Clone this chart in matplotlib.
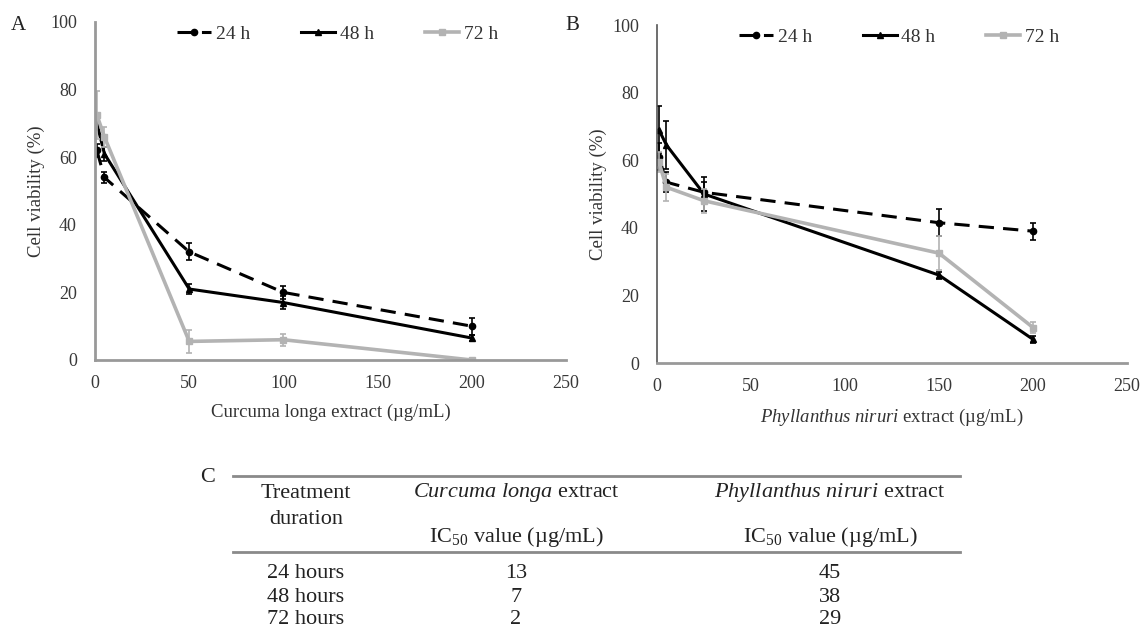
import matplotlib
matplotlib.use('Agg')
import matplotlib.pyplot as plt
from matplotlib.lines import Line2D

plt.rcParams['font.family'] = ['Liberation Serif', 'DejaVu Serif']
plt.rcParams['mathtext.fontset'] = 'custom'
plt.rcParams['mathtext.rm'] = 'Liberation Serif'
plt.rcParams['mathtext.it'] = 'Liberation Serif:italic'

# Panel A - Curcuma longa
cl_conc = [1, 5, 50, 100, 200]
cl_24 = [62, 54, 32, 20, 10]
cl_24_err = [2, 1.5, 2.5, 2, 2.5]
cl_48 = [70, 61, 21, 17, 6.5]
cl_48_err = [2, 2, 1.5, 2, 1]
cl_72 = [72.5, 66, 5.5, 6, 0]
cl_72_err = [7, 3, 3.3, 1.8, 0.5]

# Panel B - Phyllanthus niruri
pn_conc = [1, 5, 25, 150, 200]
pn_24 = [61, 53.5, 50.5, 41.5, 39]
pn_24_err = [4, 3, 3, 4, 2.5]
pn_48 = [69, 64.5, 50, 26, 7]
pn_48_err = [7, 7, 5, 1, 1]
pn_72 = [59.5, 52, 48, 32.5, 10.5]
pn_72_err = [3, 4, 3.5, 5, 1.5]

labels = ['24 h', '48 h', '72 h']
x_ticks = [0, 50, 100, 150, 200, 250]
y_ticks = [0, 20, 40, 60, 80, 100]

# Panel C - table
durations = ['24 hours', '48 hours', '72 hours']
cl_ic50 = ['13', '7', '2']
pn_ic50 = ['45', '38', '29']

W, H = 1145, 637
fig = plt.figure(figsize=(W / 100, H / 100), dpi=100)


def fx(x):
    return x / W


def fy(y):
    return 1 - y / H


styles = [
    dict(color='black', ls=(0, (5, 3)), marker='o', ms=4.5, lw=2.2),
    dict(color='black', ls='-', marker='^', ms=4.5, lw=2.2),
    dict(color='#b3b3b3', ls='-', marker='s', ms=4.5, lw=2.6),
]


def draw_panel(ax, conc, series, errs, left_spine_color):
    for y, e, st, lab in zip(series, errs, styles, labels):
        ax.errorbar(conc, y, yerr=e, fmt='none', ecolor=st['color'],
                    elinewidth=1.2, capsize=2.5, capthick=1.2)
        ax.plot(conc, y, label=lab, **st)
    ax.set_xlim(0, 250)
    ax.set_ylim(0, 100)
    ax.set_xticks(x_ticks)
    ax.set_yticks(y_ticks)
    ax.tick_params(length=0, labelsize=13, colors='#383838')
    ax.tick_params(axis='y', pad=13)
    ax.tick_params(axis='x', pad=11)
    for s in ['top', 'right']:
        ax.spines[s].set_visible(False)
    ax.spines['bottom'].set_color('#999999')
    ax.spines['bottom'].set_linewidth(2)
    ax.spines['left'].set_color(left_spine_color)
    ax.spines['left'].set_linewidth(2 if left_spine_color == '#999999' else 1.2)
    ax.set_ylabel('Cell viability (%)', fontsize=13.5, color='#333333', labelpad=4)
    ax.legend(loc='center', bbox_to_anchor=(0.515, 0.965), ncol=3, frameon=False,
              fontsize=14, handlelength=1.75, handletextpad=0.25,
              columnspacing=2.6, labelcolor='#333333')


axA = fig.add_axes([fx(95), fy(360), fx(566 - 95), (360 - 22) / H])
draw_panel(axA, cl_conc, [cl_24, cl_48, cl_72],
           [cl_24_err, cl_48_err, cl_72_err], '#999999')
axA.set_xlabel('Curcuma longa extract (µg/mL)', fontsize=13.5, color='#333333', labelpad=8)

axB = fig.add_axes([fx(657), fy(363), fx(1127 - 657), (363 - 25) / H])
draw_panel(axB, pn_conc, [pn_24, pn_48, pn_72],
           [pn_24_err, pn_48_err, pn_72_err], '#555555')
axB.set_xlabel(r'$\mathit{Phyllanthus\ niruri}$ extract (µg/mL)', fontsize=13.5,
               color='#333333', labelpad=8)

# panel letters
fig.text(fx(18), fy(25), 'A', fontsize=15, ha='center', va='center', color='#222222')
fig.text(fx(572), fy(25), 'B', fontsize=15, ha='center', va='center', color='#222222')
fig.text(fx(208), fy(477), 'C', fontsize=16, ha='center', va='center', color='#222222')

# table
fs = 16
tc = '#222222'
for yl in [476, 552]:
    fig.add_artist(Line2D([fx(233), fx(960)], [fy(yl), fy(yl)], color='#8a8a8a', lw=2))

col_x = [306, 516, 830]
fig.text(fx(col_x[0]), fy(493), 'Treatment', fontsize=fs, ha='center', va='center', color=tc)
fig.text(fx(col_x[0]), fy(520), 'duration', fontsize=fs, ha='center', va='center', color=tc)
fig.text(fx(col_x[1]), fy(493), r'$\mathit{Curcuma\ longa}$ extract', fontsize=fs,
         ha='center', va='center', color=tc)
fig.text(fx(col_x[2]), fy(493), r'$\mathit{Phyllanthus\ niruri}$ extract', fontsize=fs,
         ha='center', va='center', color=tc)
for cx in col_x[1:]:
    fig.text(fx(cx), fy(537), r'IC$_{50}$ value (µg/mL)', fontsize=fs,
             ha='center', va='center', color=tc)

row_y = [573, 597, 620]
for ry, d, a, b in zip(row_y, durations, cl_ic50, pn_ic50):
    fig.text(fx(col_x[0]), fy(ry), d, fontsize=fs, ha='center', va='center', color=tc)
    fig.text(fx(col_x[1]), fy(ry), a, fontsize=fs, ha='center', va='center', color=tc)
    fig.text(fx(col_x[2]), fy(ry), b, fontsize=fs, ha='center', va='center', color=tc)

fig.savefig('out.png', dpi=100)
